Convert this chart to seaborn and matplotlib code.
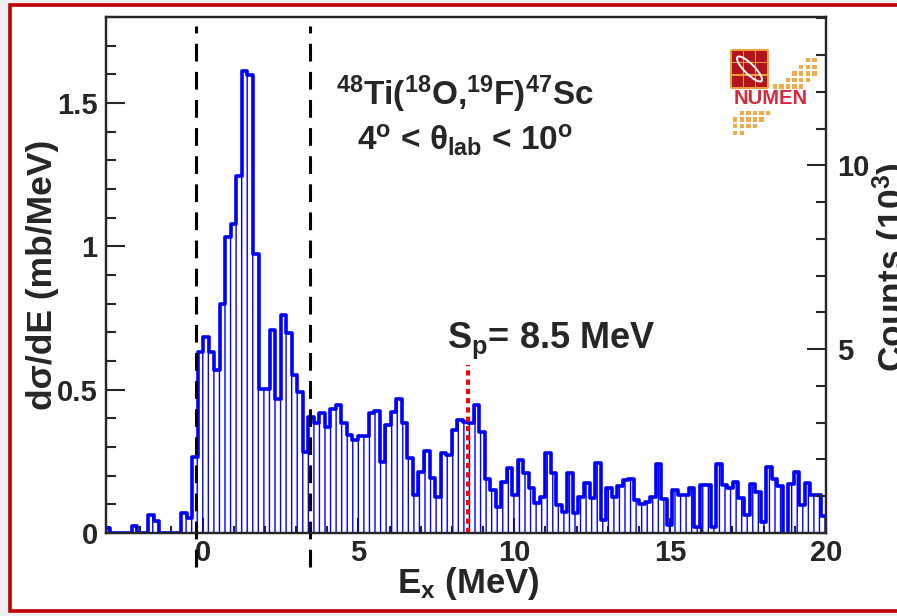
import numpy as np
import pandas as pd
import seaborn as sns
import matplotlib.pyplot as plt
from matplotlib import patches, transforms
from matplotlib.ticker import MultipleLocator, FuncFormatter

# histogram binning (MeV)
BIN_START = -3.163
BIN_WIDTH = 0.177
SP_ENERGY = 8.5            # proton separation energy
CUTS = [-0.2, 3.45]        # dashed region markers
COUNTS_PER_MB = 7.8        # right axis: counts (10^3) per mb/MeV

# d(sigma)/dE per bin, mb/MeV
dsig = [0.016, 0, 0, 0, 0, 0.024, 0, 0, 0.063, 0.043,
        0, 0, 0, 0, 0.070, 0.052, 0.266, 0.632, 0.684, 0.632,
        0.568, 0.80, 1.032, 1.079, 1.247, 1.613, 1.596, 0.975, 0.504, 0.504,
        0.707, 0.469, 0.76, 0.698, 0.55, 0.492, 0.283, 0.405, 0.382, 0.417,
        0.371, 0.434, 0.446, 0.384, 0.342, 0.326, 0.338, 0.338, 0.419, 0.426,
        0.249, 0.376, 0.423, 0.466, 0.382, 0.26, 0.132, 0.214, 0.287, 0.191,
        0.127, 0.28, 0.272, 0.361, 0.394, 0.388, 0.382, 0.446, 0.353, 0.19,
        0.15, 0.092, 0.179, 0.225, 0.132, 0.254, 0.208, 0.156, 0.103, 0.127,
        0.278, 0.208, 0.098, 0.075, 0.21, 0.069, 0.127, 0.173, 0.121, 0.245,
        0.045, 0.156, 0.127, 0.164, 0.185, 0.187, 0.115, 0.101, 0.109, 0.127,
        0.241, 0.118, 0.028, 0.15, 0.132, 0.132, 0.156, 0.022, 0.168, 0.168,
        0.022, 0.241, 0.168, 0.156, 0.179, 0.121, 0.063, 0.171, 0.144, 0.04,
        0.231, 0.19, 0.164, -0.008, 0.171, 0.214, 0.098, 0.175, 0.132, 0.132,
        0.06]

x_ticks = [0, 5, 10, 15, 20]
left_ticks = [0, 0.5, 1, 1.5]
right_ticks = [5, 10]

edges = (BIN_START + BIN_WIDTH * np.arange(len(dsig) + 1)).tolist()
df = pd.DataFrame({"ex": np.array(edges[:-1]) + BIN_WIDTH / 2, "dsig": dsig})

sns.set_style("ticks")
plt.rcParams["font.family"] = ["Liberation Sans", "DejaVu Sans"]
plt.rcParams.update({
    "font.weight": "bold",
    "axes.labelweight": "bold",
    "mathtext.fontset": "custom",
    "mathtext.rm": "Liberation Sans:bold",
    "mathtext.it": "Liberation Sans:bold",
    "mathtext.bf": "Liberation Sans:bold",
    "hatch.linewidth": 1.0,
    "axes.linewidth": 1.6,
})

W, H = 897, 616
fig = plt.figure(figsize=(W / 100, H / 100), dpi=100, facecolor="#f0f0f0")
# pixel coords measured from the top-left corner
px = transforms.Affine2D().scale(1 / 100, -1 / 100).translate(0, H / 100) + fig.dpi_scale_trans

# red frame around the panel
fig.add_artist(patches.Rectangle((10, 5), 920, 606, transform=px, facecolor="white",
                                 edgecolor="#c00000", linewidth=2.6, zorder=-1))

ax = fig.add_axes([106 / W, 1 - 533 / H, 720 / W, 516 / H])

# hatched body
sns.histplot(data=df, x="ex", weights="dsig", bins=edges, element="bars", fill=True, ax=ax)
for p in ax.patches:
    p.set_facecolor("none")
    p.set_edgecolor("blue")
    p.set_alpha(1)
    p.set_linewidth(0)
    p.set_hatch("|||")
# outline
sns.histplot(data=df, x="ex", weights="dsig", bins=edges, element="step", fill=False,
             ax=ax, color="blue", linewidth=2.6)

ax.set_xlim(-3.1, 20)
ax.set_ylim(0, 1.8)

for xc in CUTS:
    ax.plot([xc, xc], [-0.12, 1.77], color="black", lw=2.2, ls=(0, (5.8, 3.4)),
            clip_on=False, zorder=4)
ax.plot([SP_ENERGY, SP_ENERGY], [0, 0.585], color="red", lw=2.9, ls=(0, (1.3, 1.0)),
        solid_capstyle="butt", dash_capstyle="butt", zorder=4)

ax.text(8.41, 1.491, "$^{48}$Ti($^{18}$O,$^{19}$F)$^{47}$Sc", fontsize=24,
        ha="center", va="baseline")
ax.text(8.41, 1.334, "4$^{o}$ < θ$_{lab}$ < 10$^{o}$", fontsize=24,
        ha="center", va="baseline")
ax.text(7.83, 0.645, "S$_{p}$= 8.5 MeV", fontsize=26, ha="left", va="baseline")

fmt = FuncFormatter(lambda v, pos: f"{v:g}")
ax.set_xticks(x_ticks)
ax.set_yticks(left_ticks)
ax.xaxis.set_minor_locator(MultipleLocator(1))
ax.yaxis.set_minor_locator(MultipleLocator(0.1))
ax.yaxis.set_major_formatter(fmt)
ax.tick_params(which="both", direction="in", width=1.5, labelsize=21, pad=6,
               top=False, right=False)
ax.tick_params(axis="x", pad=4)
ax.tick_params(axis="y", which="major", length=14)
ax.tick_params(axis="y", which="minor", length=7)
ax.tick_params(axis="x", which="major", length=11)
ax.tick_params(axis="x", which="minor", length=5)

ax.set_xlabel("E$_{x}$ (MeV)", fontsize=25, fontweight="bold")
ax.xaxis.set_label_coords(0.503, -0.116)
ax.xaxis.label.set_va("baseline")
ax.set_ylabel("dσ/dE (mb/MeV)", fontsize=25.5, fontweight="bold")
ax.yaxis.set_label_coords(-0.088, 0.5)
ax.yaxis.label.set_va("center")

ax2 = ax.twinx()
ax2.set_ylim(0, 1.8 * COUNTS_PER_MB)
ax2.set_yticks(right_ticks)
ax2.yaxis.set_minor_locator(MultipleLocator(1))
ax2.yaxis.set_major_formatter(fmt)
ax2.tick_params(which="both", direction="in", width=1.5, labelsize=21, pad=8)
ax2.tick_params(which="major", length=14)
ax2.tick_params(which="minor", length=7)
ax2.set_ylabel("Counts (10$^{3}$)", fontsize=25.5, fontweight="bold", rotation=90)
ax2.yaxis.set_label_coords(1.092, 0.515)
ax2.yaxis.label.set_va("center")

# NUMEN logo
logo = [patches.Rectangle((731, 50), 37, 38, facecolor="#b3121f", edgecolor="none")]
for k in range(4):
    logo.append(patches.Rectangle((731 + k * 12.3 - 0.8, 50), 1.6, 38, facecolor="#f3a03c", edgecolor="none"))
    logo.append(patches.Rectangle((731, 50 + k * 12.6 - 0.8), 37, 1.6, facecolor="#f3a03c", edgecolor="none"))
logo.append(patches.Ellipse((749.5, 69), 34, 10, angle=45, facecolor="none",
                            edgecolor="white", linewidth=1.4))
for gx in np.arange(733, 816, 6.6):
    for gy in np.arange(58, 134, 6.6):
        d = abs(0.8 * (gx - 810) + (gy - 66)) / np.hypot(0.8, 1)
        in_square = gx < 771 and gy < 91
        in_text = 89 < gy < 106
        if d < 10 and not in_square and not in_text:
            logo.append(patches.Rectangle((gx, gy), 4.4, 4.4, facecolor="#f5ab45", edgecolor="none"))
for a in logo:
    a.set_transform(px)
    a.set_zorder(5)
    fig.add_artist(a)
fig.text(771 / W, 1 - 98 / H, "NUMEN", color="#d8283c", fontsize=14.5,
         ha="center", va="center", zorder=6)

fig.savefig("out.png", dpi=100, facecolor=fig.get_facecolor())
